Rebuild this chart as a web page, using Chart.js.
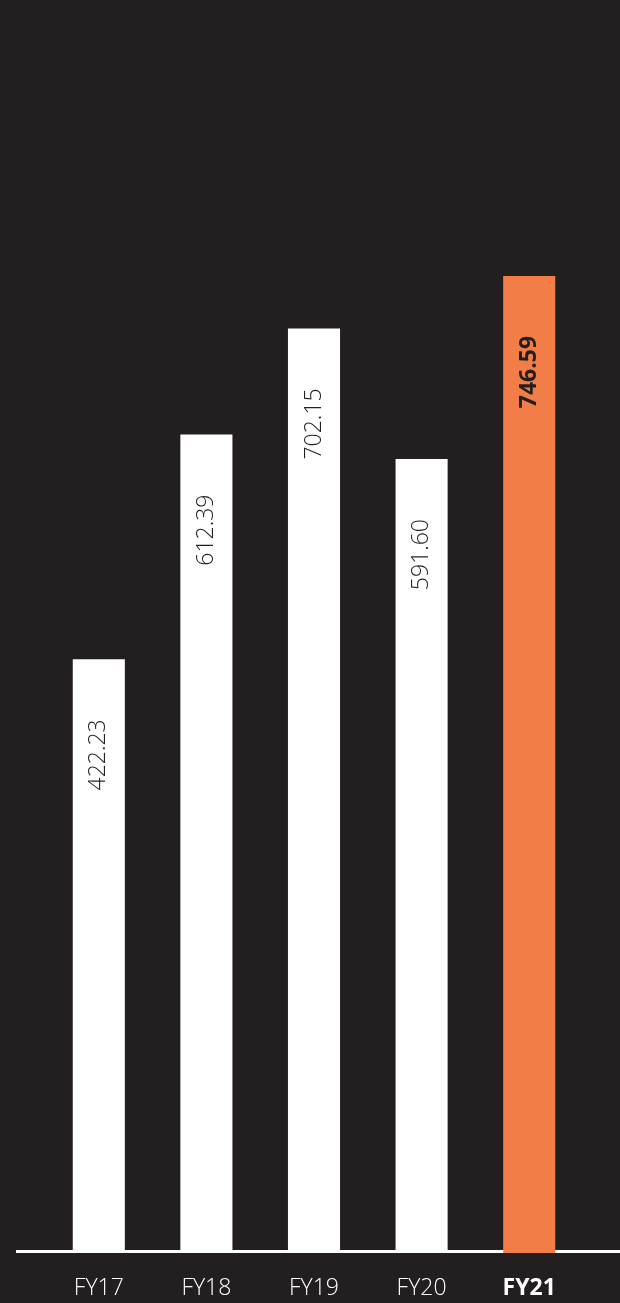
<!DOCTYPE html>
<html>
<head>
<meta charset="utf-8">
<script src="https://cdn.jsdelivr.net/npm/chart.js@4/dist/chart.umd.min.js"></script>
<style>
  html, body { margin: 0; padding: 0; background: #231f20; }
  #wrap { width: 620px; height: 1303px; position: relative; }
</style>
</head>
<body>
<div id="wrap"><canvas id="chart"></canvas></div>
<script>
// 연도 및 값
const years = ['FY17', 'FY18', 'FY19', 'FY20', 'FY21'];
const values = [422.23, 612.39, 702.15, 591.60, 746.59];
const valueLabels = ['422.23', '612.39', '702.15', '591.60', '746.59'];

const BG = '#231f20';
const WHITE = '#ffffff';
const ORANGE = '#f37d46';
const FONT = "'Open Sans', 'Lato', sans-serif";
const lastIdx = years.length - 1;

// 바닥 흰 선
const baselinePlugin = {
  id: 'baseline',
  beforeDatasetsDraw(chart) {
    const { ctx, chartArea } = chart;
    ctx.save();
    ctx.fillStyle = WHITE;
    ctx.fillRect(16, chartArea.bottom - 3, chart.width - 16, 3);
    ctx.restore();
  }
};

// 막대 안 세로 값 라벨
const valueLabelPlugin = {
  id: 'valueLabels',
  afterDatasetsDraw(chart) {
    const { ctx } = chart;
    const meta = chart.getDatasetMeta(0);
    meta.data.forEach((bar, i) => {
      ctx.save();
      ctx.translate(bar.x, bar.y + 60);
      ctx.rotate(-Math.PI / 2);
      ctx.textAlign = 'right';
      ctx.textBaseline = 'middle';
      ctx.fillStyle = BG;
      ctx.font = (i === lastIdx ? '700 ' : '300 ') + '23px ' + FONT;
      ctx.fillText(valueLabels[i], 0, 0);
      ctx.restore();
    });
  }
};

const ctx = document.getElementById('chart').getContext('2d');
new Chart(ctx, {
  type: 'bar',
  data: {
    labels: years,
    datasets: [{
      data: values,
      base: -80,
      backgroundColor: years.map((_, i) => i === lastIdx ? ORANGE : WHITE),
      borderWidth: 0,
      categoryPercentage: 1,
      barPercentage: 0.484
    }]
  },
  options: {
    responsive: true,
    maintainAspectRatio: false,
    animation: false,
    layout: { padding: { left: 45, right: 37, top: 0, bottom: 0 } },
    plugins: {
      legend: { display: false },
      tooltip: { enabled: false }
    },
    scales: {
      x: {
        grid: { display: false, drawTicks: false },
        border: { display: false },
        afterFit(scale) { scale.height = 50; },
        ticks: {
          color: WHITE,
          padding: 22,
          font: (c) => ({
            family: FONT,
            size: 23,
            weight: c.index === lastIdx ? '700' : '300'
          })
        }
      },
      y: {
        display: false,
        min: -80,
        max: 980
      }
    }
  },
  plugins: [baselinePlugin, valueLabelPlugin]
});
</script>
</body>
</html>
